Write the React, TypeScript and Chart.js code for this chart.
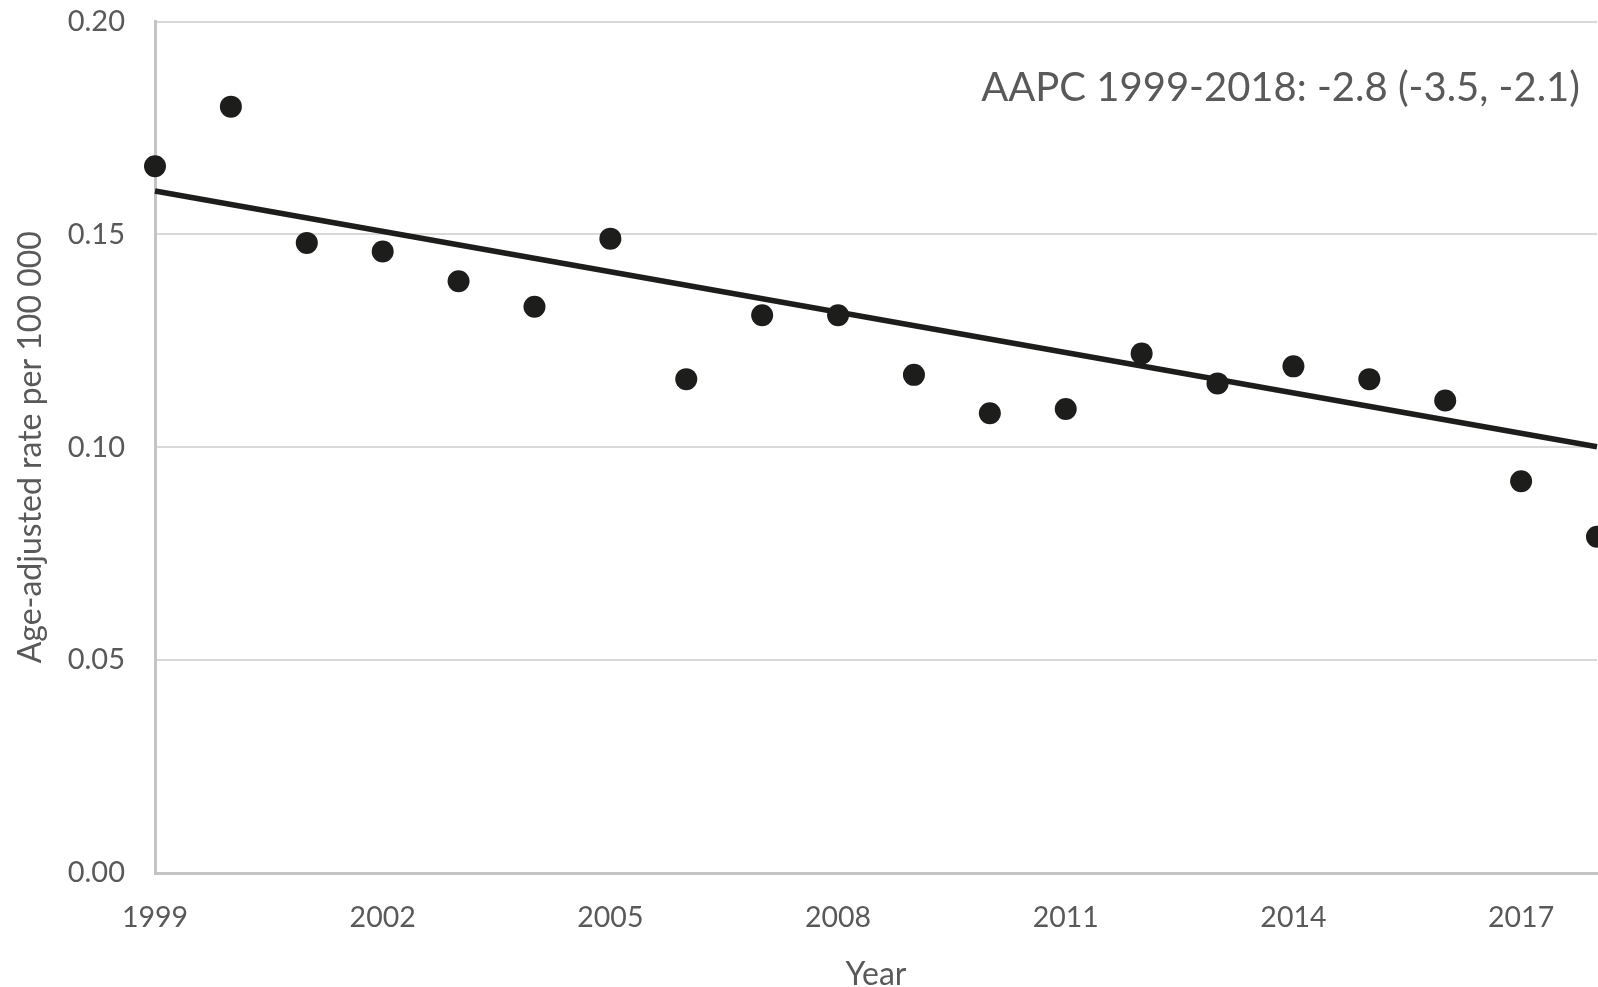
import React, { useEffect, useRef } from "react";
import { Chart, registerables } from "chart.js";

Chart.register(...registerables);

const years = [1999, 2000, 2001, 2002, 2003, 2004, 2005, 2006, 2007, 2008, 2009, 2010, 2011, 2012, 2013, 2014, 2015, 2016, 2017, 2018];
const rates = [0.166, 0.180, 0.148, 0.146, 0.139, 0.133, 0.149, 0.116, 0.131, 0.131, 0.117, 0.108, 0.109, 0.122, 0.115, 0.119, 0.116, 0.111, 0.092, 0.079];
const trendYears = [1999, 2018];
const trendRates = [0.1602, 0.1001];
const xTickYears = [1999, 2002, 2005, 2008, 2011, 2014, 2017];
const yTickValues = [0, 0.05, 0.1, 0.15, 0.2];
const annotationText = "AAPC 1999-2018: -2.8 (-3.5, -2.1)";
const yTitle = "Age-adjusted rate per 100 000";
const xTitle = "Year";

const FONT = "Lato, 'Open Sans', sans-serif";
const TEXT = "#595959";

const annotationPlugin = {
  id: "aapcNote",
  afterDatasetsDraw(chart: any) {
    const { ctx, chartArea } = chart;
    ctx.save();
    ctx.font = `40px ${FONT}`;
    ctx.fillStyle = TEXT;
    ctx.textAlign = "right";
    ctx.textBaseline = "middle";
    ctx.fillText(annotationText, chartArea.right - 17, chartArea.top + 67);
    ctx.restore();
  },
};

const zeroPadding = (scale: any) => {
  scale.paddingTop = 0;
  scale.paddingBottom = 0;
  scale.paddingLeft = 0;
  scale.paddingRight = 0;
};

export default function App() {
  const ref = useRef<HTMLCanvasElement | null>(null);

  useEffect(() => {
    document.body.style.margin = "0";
    const canvas = ref.current;
    if (!canvas) return;
    const chart = new Chart(canvas, {
      type: "scatter",
      data: {
        datasets: [
          {
            type: "line",
            data: trendYears.map((x, i) => ({ x, y: trendRates[i] })),
            borderColor: "#1d1d1b",
            borderWidth: 5.5,
            pointRadius: 0,
            fill: false,
            clip: false,
            order: 2,
          } as any,
          {
            data: years.map((x, i) => ({ x, y: rates[i] })),
            backgroundColor: "#1d1d1b",
            borderColor: "#1d1d1b",
            borderWidth: 0,
            pointRadius: 11,
            pointHoverRadius: 11,
            clip: false,
            order: 1,
          } as any,
        ],
      },
      options: {
        responsive: false,
        animation: false,
        events: [],
        layout: { autoPadding: false, padding: { top: 21.5, right: 1, left: 0, bottom: 0 } },
        plugins: {
          legend: { display: false },
          tooltip: { enabled: false },
        },
        scales: {
          x: {
            type: "linear",
            min: 1999,
            max: 2018,
            afterBuildTicks: (scale: any) => {
              scale.ticks = xTickYears.map((v) => ({ value: v }));
            },
            afterFit: (scale: any) => {
              scale.height = 114;
              zeroPadding(scale);
            },
            grid: { display: false, drawTicks: false },
            border: { display: true, color: "#c4c4c4", width: 3 },
            ticks: {
              padding: 28,
              autoSkip: false,
              maxRotation: 0,
              color: TEXT,
              font: { family: FONT, size: 28.5 },
              callback: (v: any) => String(v),
            },
            title: {
              display: true,
              text: xTitle,
              color: TEXT,
              font: { family: FONT, size: 32, lineHeight: 1 },
              padding: { top: 0, bottom: -4 },
            },
          },
          y: {
            type: "linear",
            min: 0,
            max: 0.2,
            afterBuildTicks: (scale: any) => {
              scale.ticks = yTickValues.map((v) => ({ value: v }));
            },
            afterFit: (scale: any) => {
              scale.width = 155;
              zeroPadding(scale);
            },
            grid: { color: "#d9d9d9", lineWidth: 2, drawTicks: false },
            border: { display: true, color: "#c4c4c4", width: 3 },
            ticks: {
              padding: 30,
              color: TEXT,
              font: { family: FONT, size: 29 },
              callback: (v: any) => Number(v).toFixed(2),
            },
            title: {
              display: true,
              text: yTitle,
              color: TEXT,
              font: { family: FONT, size: 32, lineHeight: 1.2 },
              padding: { top: 11, bottom: 0 },
            },
          },
        },
      } as any,
      plugins: [annotationPlugin],
    });
    if ((document as any).fonts && (document as any).fonts.ready) {
      (document as any).fonts.ready.then(() => chart.update());
    }
    return () => chart.destroy();
  }, []);

  return (
    <div style={{ width: 1598, height: 987, background: "#fff" }}>
      <canvas ref={ref} width={1598} height={987} style={{ display: "block" }} />
    </div>
  );
}
